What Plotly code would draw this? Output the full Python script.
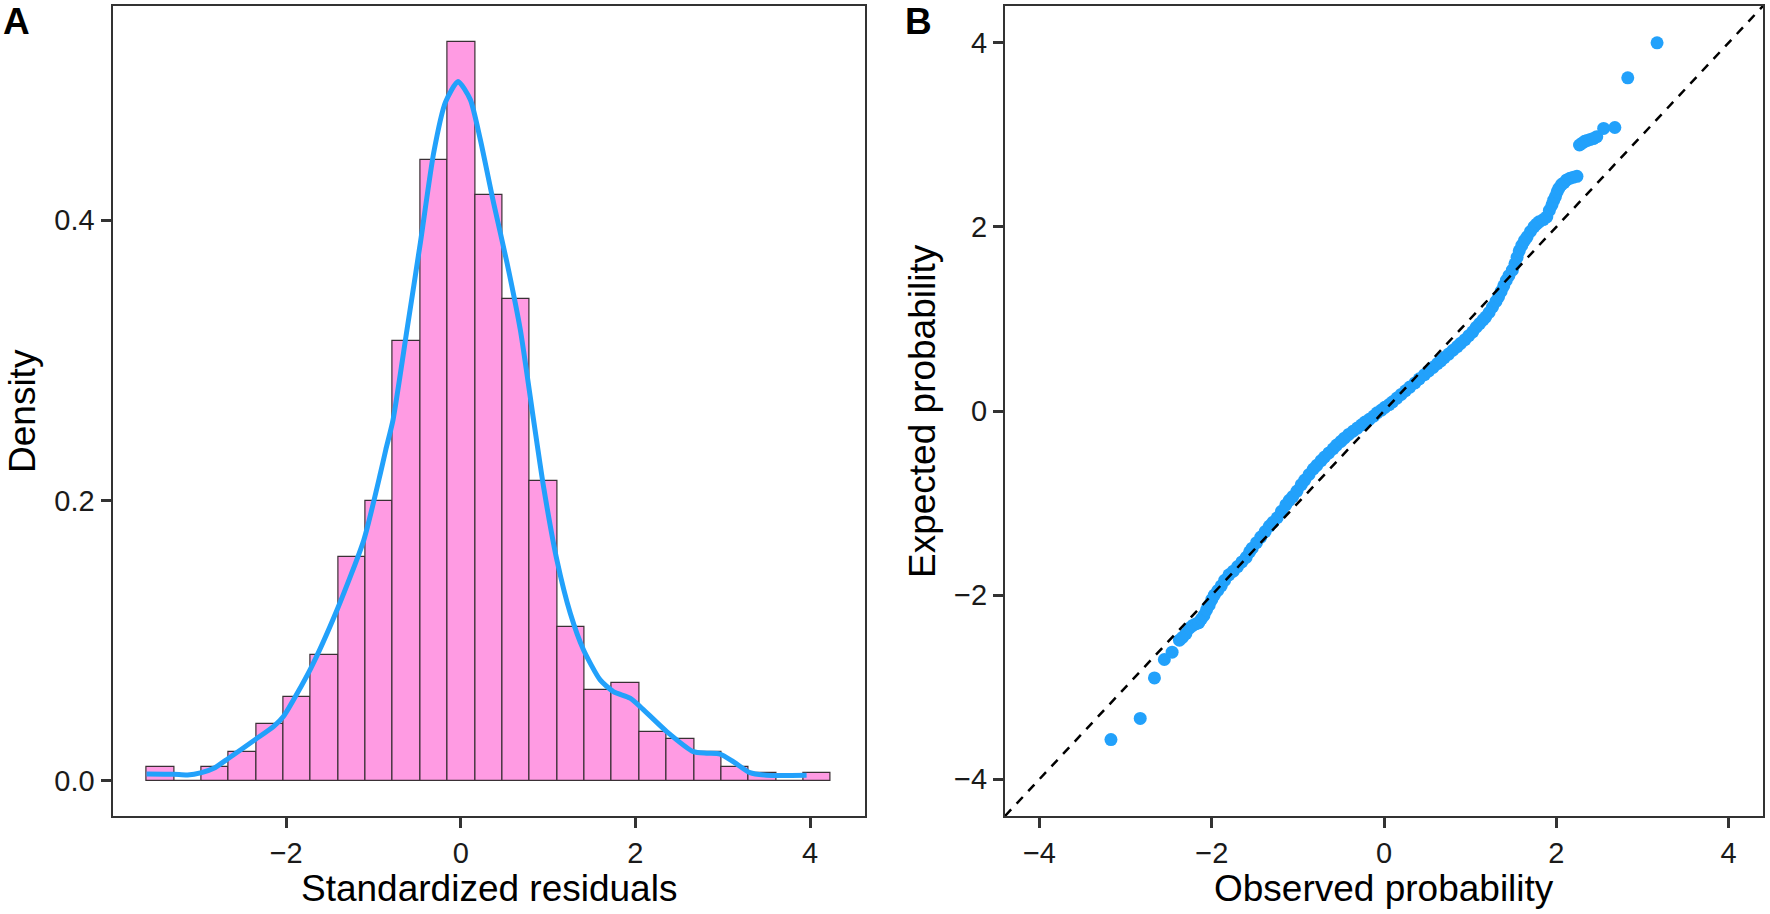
import plotly.graph_objects as go

# ---------------- data ----------------
# Panel A: histogram of standardized residuals (density scale)
bin_edges = [-3.598, -3.285, -2.971, -2.658, -2.344, -2.031, -1.717, -1.404, -1.090,
             -0.777, -0.463, -0.150, 0.164, 0.477, 0.791, 1.104, 1.418, 1.731, 2.045,
             2.358, 2.672, 2.985, 3.299, 3.612, 3.926, 4.239]
hist_density = [0.0100, 0.0, 0.0100, 0.0202, 0.0402, 0.0600, 0.0898, 0.1595, 0.1993,
                0.3136, 0.4429, 0.5274, 0.4181, 0.3434, 0.2141, 0.1098, 0.0650, 0.0698,
                0.0350, 0.0300, 0.0202, 0.0100, 0.0052, 0.0, 0.0052]

# Panel A: kernel density curve
kde_x = [-3.60, -3.29, -3.13, -2.97, -2.83, -2.66, -2.35, -2.14, -2.03, -1.72, -1.41,
         -1.11, -0.92, -0.86, -0.776, -0.616, -0.463, -0.311, -0.177, -0.032, 0.109,
         0.223, 0.375, 0.529, 0.681, 0.833, 0.947, 1.10, 1.253, 1.405, 1.596, 1.748,
         1.939, 2.054, 2.359, 2.664, 2.817, 2.969, 3.121, 3.312, 3.503, 3.961]
kde_y = [0.0048, 0.0046, 0.0040, 0.0057, 0.0088, 0.0160, 0.0296, 0.0390, 0.0460, 0.0800,
         0.1230, 0.1720, 0.2196, 0.2360, 0.2576, 0.3220, 0.3840, 0.4480, 0.4840, 0.4990,
         0.4860, 0.4576, 0.4124, 0.3696, 0.3220, 0.2576, 0.2100, 0.1576, 0.1196, 0.0934,
         0.0719, 0.0636, 0.0589, 0.0529, 0.0350, 0.0207, 0.0196, 0.0190, 0.0136, 0.0057,
         0.0039, 0.0039]

# Panel B: QQ points (observed vs expected)
qq_observed = [
    -3.17, -2.83, -2.665, -2.55, -2.46,
    -2.375, -2.34, -2.30, -2.26, -2.22, -2.18, -2.15, -2.12, -2.09, -2.06, -2.03, -2.00,
    -1.97, -1.93, -1.89, -1.85, -1.80, -1.75, -1.70, -1.65, -1.60, -1.56, -1.53, -1.48,
    -1.43, -1.38, -1.33, -1.29, -1.24, -1.19, -1.14, -1.10, -1.06, -1.01, -0.96, -0.92,
    -0.87, -0.82, -0.78, -0.73, -0.69, -0.64, -0.59, -0.55, -0.50, -0.46, -0.41, -0.36,
    -0.31, -0.26, -0.22, -0.17, -0.12, -0.08, -0.03, 0.01, 0.06, 0.10, 0.15, 0.20, 0.25,
    0.30, 0.36, 0.41, 0.47, 0.52, 0.57, 0.62, 0.66, 0.70, 0.75, 0.80, 0.85, 0.89, 0.94,
    0.985, 1.03, 1.07, 1.11, 1.15, 1.18, 1.22, 1.26, 1.30, 1.33, 1.36, 1.39, 1.42, 1.45,
    1.49, 1.52, 1.545, 1.57, 1.60, 1.63, 1.66, 1.70, 1.74, 1.77, 1.80, 1.85, 1.89, 1.92,
    1.95, 1.97, 1.99, 2.01, 2.03, 2.06, 2.09, 2.12, 2.16, 2.20, 2.24,
    2.27, 2.30, 2.33, 2.36, 2.395, 2.43, 2.47, 2.55, 2.68, 2.83, 3.17]
qq_expected = [
    -3.57, -3.34, -2.90, -2.70, -2.62,
    -2.49, -2.46, -2.42, -2.36, -2.33, -2.31, -2.30, -2.26, -2.22, -2.16, -2.11, -2.05,
    -2.00, -1.95, -1.90, -1.84, -1.78, -1.74, -1.69, -1.64, -1.59, -1.53, -1.49, -1.43,
    -1.37, -1.31, -1.25, -1.21, -1.16, -1.09, -1.02, -0.97, -0.93, -0.87, -0.80, -0.75,
    -0.69, -0.63, -0.59, -0.54, -0.50, -0.455, -0.41, -0.37, -0.33, -0.295, -0.255, -0.22,
    -0.185, -0.15, -0.12, -0.09, -0.055, -0.02, 0.01, 0.04, 0.07, 0.10, 0.14, 0.18, 0.22,
    0.26, 0.305, 0.35, 0.395, 0.436, 0.475, 0.515, 0.545, 0.58, 0.618, 0.66, 0.70, 0.735,
    0.775, 0.818, 0.86, 0.91, 0.95, 0.99, 1.02, 1.07, 1.13, 1.19, 1.24, 1.30, 1.36, 1.42,
    1.47, 1.53, 1.60, 1.67, 1.74, 1.80, 1.85, 1.89, 1.95, 2.00, 2.03, 2.055, 2.08, 2.11,
    2.18, 2.24, 2.29, 2.33, 2.38, 2.42, 2.46, 2.48, 2.51, 2.53, 2.54, 2.55,
    2.89, 2.91, 2.93, 2.94, 2.95, 2.96, 2.98, 3.07, 3.08, 3.62, 4.00]

ref_line = [-4.4, 4.4]

x_ticks_a = [-2, 0, 2, 4]
x_ticktext_a = ["\u22122", "0", "2", "4"]
y_ticks_a = [0.0, 0.2, 0.4]
y_ticktext_a = ["0.0", "0.2", "0.4"]
ticks_b = [-4, -2, 0, 2, 4]
ticktext_b = ["\u22124", "\u22122", "0", "2", "4"]

# ---------------- styling ----------------
W, H = 1770, 914
PINK = "#FF9BE3"
BLUE = "#22A1FB"
AXIS = "#333333"
FONT = "Liberation Sans, Arial, Helvetica, sans-serif"
TICK_SIZE = 29
TITLE_SIZE = 37


def px_x(p):
    return p / W


def px_y(p):
    return (H - p) / H


centers = [(a + b) / 2 for a, b in zip(bin_edges[:-1], bin_edges[1:])]
widths = [b - a for a, b in zip(bin_edges[:-1], bin_edges[1:])]

fig = go.Figure()

fig.add_trace(go.Bar(
    x=centers, y=hist_density, width=widths,
    marker=dict(color=PINK, line=dict(color="#3a3035", width=1.2)),
    xaxis="x", yaxis="y", showlegend=False))

fig.add_trace(go.Scatter(
    x=kde_x, y=kde_y, mode="lines",
    line=dict(color=BLUE, width=5, shape="spline", smoothing=0.6),
    xaxis="x", yaxis="y", showlegend=False))

fig.add_trace(go.Scatter(
    x=qq_observed, y=qq_expected, mode="markers",
    marker=dict(color=BLUE, size=13, line=dict(width=0)),
    xaxis="x2", yaxis="y2", showlegend=False))

fig.add_trace(go.Scatter(
    x=ref_line, y=ref_line, mode="lines",
    line=dict(color="black", width=2.5, dash="9px,8px"),
    xaxis="x2", yaxis="y2", showlegend=False))

axis_common = dict(
    showline=True, mirror=True, linecolor=AXIS, linewidth=2,
    ticks="outside", ticklen=10, tickwidth=2.5, tickcolor=AXIS,
    showgrid=False, zeroline=False,
    tickfont=dict(family=FONT, size=TICK_SIZE, color="#1a1a1a"),
)

ydom = [px_y(816), px_y(6)]

fig.update_layout(
    width=W, height=H,
    margin=dict(l=0, r=0, t=0, b=0),
    paper_bgcolor="white", plot_bgcolor="white",
    bargap=0,
    xaxis=dict(domain=[px_x(112.5), px_x(865)], range=[-3.99, 4.63],
               tickvals=x_ticks_a, ticktext=x_ticktext_a, anchor="y", **axis_common),
    yaxis=dict(domain=ydom, range=[-0.0252, 0.5528],
               tickvals=y_ticks_a, ticktext=y_ticktext_a, anchor="x", **axis_common),
    xaxis2=dict(domain=[px_x(1005), px_x(1763)], range=[-4.4, 4.4],
                tickvals=ticks_b, ticktext=ticktext_b, anchor="y2", **axis_common),
    yaxis2=dict(domain=ydom, range=[-4.4, 4.4],
                tickvals=ticks_b, ticktext=ticktext_b, anchor="x2", **axis_common),
)

title_font = dict(family=FONT, size=TITLE_SIZE, color="black")
letter_font = dict(family=FONT, size=37, color="black")

annotations = [
    dict(text="Standardized residuals", x=px_x(488.7), y=px_y(888), xref="paper", yref="paper",
         xanchor="center", yanchor="middle", showarrow=False, font=title_font),
    dict(text="Observed probability", x=px_x(1384), y=px_y(888), xref="paper", yref="paper",
         xanchor="center", yanchor="middle", showarrow=False, font=title_font),
    dict(text="Density", x=px_x(22), y=px_y(411), xref="paper", yref="paper",
         xanchor="center", yanchor="middle", textangle=-90, showarrow=False, font=title_font),
    dict(text="Expected probability", x=px_x(922), y=px_y(411), xref="paper", yref="paper",
         xanchor="center", yanchor="middle", textangle=-90, showarrow=False, font=title_font),
    dict(text="<b>A</b>", x=px_x(1), y=px_y(22), xref="paper", yref="paper",
         xanchor="left", yanchor="middle", showarrow=False, font=letter_font),
    dict(text="<b>B</b>", x=px_x(903), y=px_y(22), xref="paper", yref="paper",
         xanchor="left", yanchor="middle", showarrow=False, font=letter_font),
]
fig.update_layout(annotations=annotations)

fig.write_html(
    "out.html",
    config={"displayModeBar": False},
    post_script="document.body.style.margin='0';document.body.style.overflow='hidden';",
)
